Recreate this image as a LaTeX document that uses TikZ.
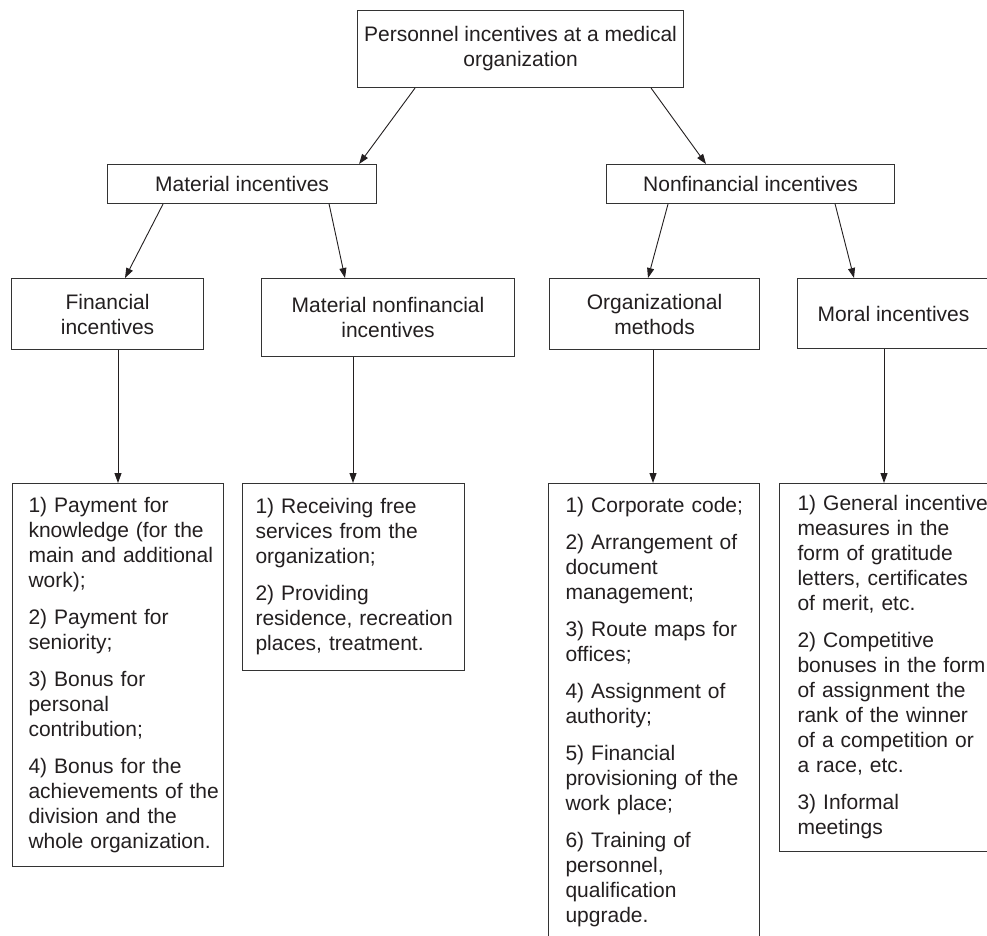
\documentclass[tikz,border=0pt]{standalone}
\usepackage{fontspec}
\setmainfont{Liberation Sans}
\usetikzlibrary{arrows.meta}
\definecolor{ink}{HTML}{231F20}
\definecolor{edge}{HTML}{333333}
\newcommand\boxfont{\fontsize{21}{25}\selectfont}
\newcommand\pad[1]{\leftskip=#1\relax\hyphenpenalty=10000\relax\exhyphenpenalty=10000\relax}
\tikzset{
  box/.style={draw=edge, line width=1.1pt, inner sep=0pt, align=center, anchor=north west, font=\boxfont, text=ink},
  listbox/.style={draw=edge, line width=1.1pt, inner sep=0pt, align=left, anchor=north west, font=\boxfont, text=ink},
  arr/.style={draw=ink, line width=0.9pt, -{Triangle[length=10pt,width=7pt]}}
}
\begin{document}
\begin{tikzpicture}[x=1pt,y=-1pt]
\useasboundingbox (0,0) rectangle (987,935);
\fill[white] (0,0) rectangle (987,935);

\node[box, minimum width=326pt, minimum height=77pt] (top) at (357,10) {Personnel incentives at a medical\\organization};

\node[box, minimum width=269pt, minimum height=39pt] (mat) at (107,164) {Material incentives};
\node[box, minimum width=288pt, minimum height=39pt] (nonfin) at (606,164) {Nonfinancial incentives};

\node[box, minimum width=192pt, minimum height=71pt] (fin) at (11,278) {Financial\\incentives};
\node[box, minimum width=253pt, minimum height=78pt] (matnon) at (261,278) {Material nonfinancial\\incentives};
\node[box, minimum width=210pt, minimum height=71pt] (org) at (549,278) {Organizational\\methods};
\node[box, minimum width=192pt, minimum height=70pt] (moral) at (797,278) {Moral incentives};

\node[listbox, minimum height=383pt, text width=211pt] (b1) at (12,483)
 {\pad{16pt}1) Payment for\\knowledge (for the\\main and additional\\work);\\[12pt]
  2) Payment for\\seniority;\\[12pt]
  3) Bonus for\\personal\\contribution;\\[12pt]
  4) Bonus for the\\achievements of the\\division and the\\whole organization.\par};

\node[listbox, minimum height=187pt, text width=222pt] (b2) at (242,483)
 {\pad{13pt}1) Receiving free\\services from the\\organization;\\[12pt]
  2) Providing\\residence, recreation\\places, treatment.\par};

\node[listbox, minimum height=458pt, text width=211pt] (b3) at (548,483)
 {\pad{17pt}1) Corporate code;\\[12pt]
  2) Arrangement of\\document\\management;\\[12pt]
  3) Route maps for\\offices;\\[12pt]
  4) Assignment of\\authority;\\[12pt]
  5) Financial\\provisioning of the\\work place;\\[12pt]
  6) Training of\\personnel,\\qualification\\upgrade.\par};

\node[listbox, minimum height=368pt, text width=240pt] (b4) at (779,483)
 {\pad{18pt}1) General incentive\\measures in the\\form of gratitude\\letters, certificates\\of merit, etc.\\[12pt]
  2) Competitive\\bonuses in the form\\of assignment the\\rank of the winner\\of a competition or\\a race, etc.\\[12pt]
  3) Informal\\meetings\par};

\draw[arr] ([xshift=58pt]top.south west) -- ([xshift=-18pt]mat.north east);
\draw[arr] ([xshift=-33pt]top.south east) -- ([xshift=100pt]nonfin.north west);

\draw[arr] ([xshift=56pt]mat.south west) -- ([xshift=114pt]fin.north west);
\draw[arr] ([xshift=-48pt]mat.south east) -- ([xshift=84pt]matnon.north west);
\draw[arr] ([xshift=62pt]nonfin.south west) -- ([xshift=99pt]org.north west);
\draw[arr] ([xshift=-60pt]nonfin.south east) -- ([xshift=57pt]moral.north west);

\draw[arr] ([xshift=107pt]fin.south west) -- ([xshift=106pt]b1.north west);
\draw[arr] ([xshift=92pt]matnon.south west) -- ([xshift=111pt]b2.north west);
\draw[arr] ([xshift=104pt]org.south west) -- ([xshift=105pt]b3.north west);
\draw[arr] ([xshift=87pt]moral.south west) -- ([xshift=105pt]b4.north west);
\end{tikzpicture}
\end{document}
